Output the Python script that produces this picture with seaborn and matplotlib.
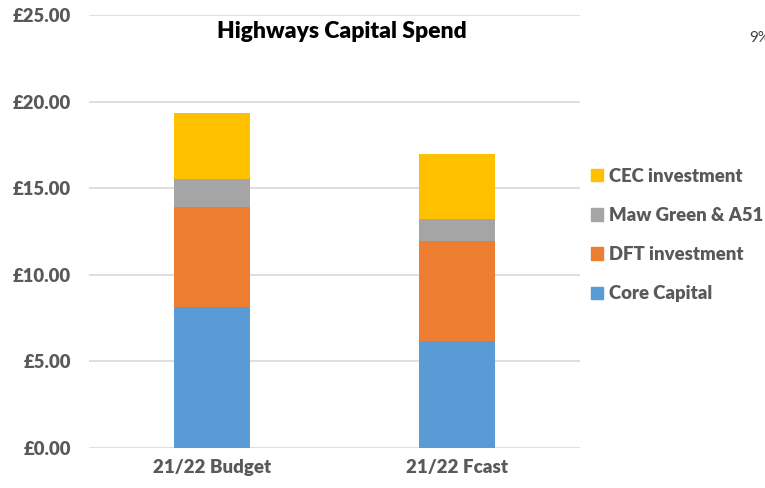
import numpy as np
import pandas as pd
import matplotlib
matplotlib.use("Agg")
import matplotlib.pyplot as plt
import seaborn as sns
from matplotlib.patches import Patch

# data
categories = ["21/22 Budget", "21/22 Fcast"]
series = ["Core Capital", "DFT investment", "Maw Green & A51", "CEC investment"]
core_capital = [8.12, 6.16]
dft_investment = [5.77, 5.78]
maw_green = [1.63, 1.26]
cec_investment = [3.83, 3.80]
colors = ["#5b9bd5", "#ed7d31", "#a5a5a5", "#ffc000"]
yticks = [0, 5, 10, 15, 20, 25]

sns.set_style("white")
plt.rcParams["font.family"] = ["Lato", "DejaVu Sans"]

fig = plt.figure(figsize=(7.65, 4.88), dpi=100)
ax = fig.add_axes([89 / 765, 1 - 448 / 488, (580 - 89) / 765, (448 - 15) / 488])

values = [core_capital, dft_investment, maw_green, cec_investment]
bottom = np.zeros(len(categories))
for name, vals, col in zip(series, values, colors):
    df = pd.DataFrame({"cat": categories, "val": vals})
    sns.barplot(data=df, x="cat", y="val", color=col, width=0.31,
                bottom=bottom, ax=ax, zorder=3, linewidth=0, saturation=1)
    bottom = bottom + np.array(vals)

ax.set_ylim(0, 25)
ax.set_xlim(-0.5, 1.5)
ax.set_yticks(yticks)
ax.set_yticklabels([f"£{v:.2f}" for v in yticks])
ax.yaxis.grid(True, color="#d9d9d9", linewidth=1.2, zorder=0)
ax.set_xlabel("")
ax.set_ylabel("")
for s in ax.spines.values():
    s.set_visible(False)
ax.tick_params(axis="both", length=0, labelsize=13.3, colors="#595959")
ax.tick_params(axis="x", labelsize=13.5, pad=8)
ax.tick_params(axis="y", pad=13)
for lab in ax.get_xticklabels() + ax.get_yticklabels():
    lab.set_fontweight("heavy")

fig.text(342 / 765, 1 - 31 / 488, "Highways Capital Spend", ha="center", va="center",
         fontsize=16.5, fontweight="heavy", color="black")
fig.text(749 / 765, 1 - 38 / 488, "9%", ha="left", va="center", fontsize=11, color="#404040")

handles = [Patch(color=c, label=s) for s, c in zip(series, colors)][::-1]
leg = fig.legend(handles=handles, loc="center left", bbox_to_anchor=(574 / 765, 1 - 235 / 488),
                 frameon=False, handlelength=0.65, handleheight=0.65, handletextpad=0.35,
                 labelspacing=1.2, prop={"size": 13.3, "weight": "heavy"})
for t in leg.get_texts():
    t.set_color("#595959")

fig.savefig("out.png", dpi=100)
